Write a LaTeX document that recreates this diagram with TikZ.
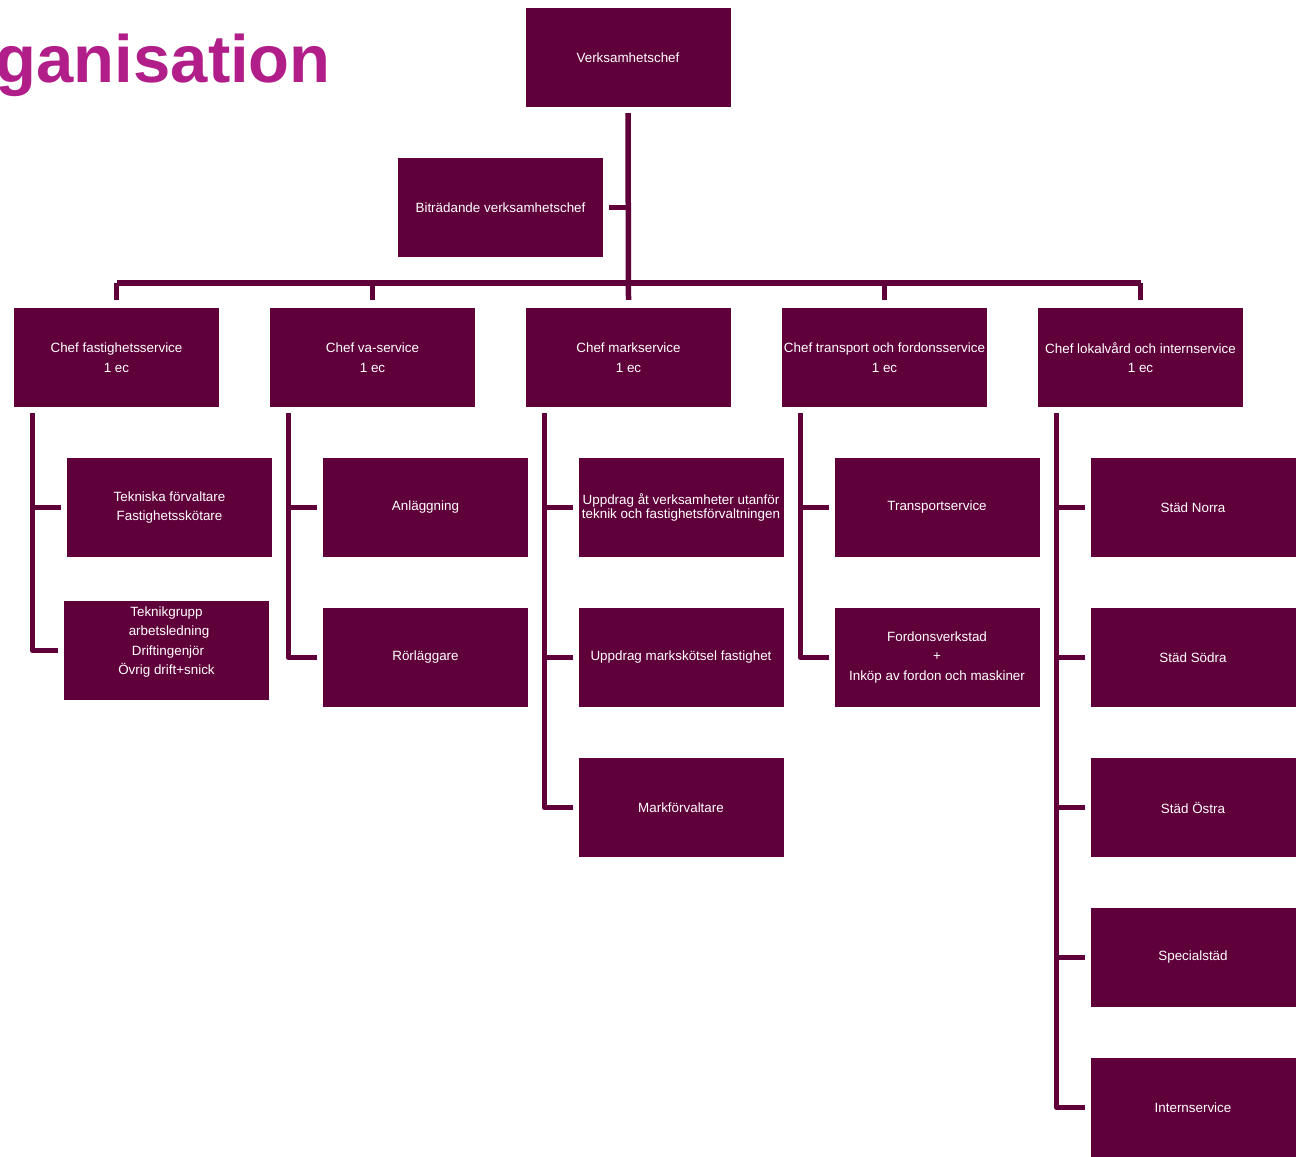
\documentclass[tikz,border=0pt]{standalone}
\usepackage{fontspec}
\setmainfont{Liberation Sans}
\definecolor{boxc}{RGB}{96,0,58}
\definecolor{titlec}{RGB}{177,30,137}
\tikzset{
  orgbox/.style={fill=boxc, text=white, minimum width=205pt, minimum height=99pt,
    inner sep=0pt, align=center, font=\fontsize{13.4}{19.5}\selectfont},
  conn/.style={draw=boxc, line width=5.5pt, line join=round},
}
\begin{document}
\begin{tikzpicture}[x=1pt,y=-1pt]
\clip (0,0) rectangle (1297,1156);
\useasboundingbox (0,0) rectangle (1297,1156);
\fill[white] (0,0) rectangle (1297,1156);

% heading, partly outside the page on the left
\node[anchor=base east, inner sep=0pt, text=titlec,
  font=\fontsize{67}{67}\selectfont\bfseries] (title) at (331,82) {Organisation};

% top level
\node[orgbox] (vc) at (628,57.5) {Verksamhetschef};
\node[orgbox] (bv) at (500.5,207.5) {Biträdande verksamhetschef};

% unit managers
\node[orgbox] (c1) at (116.5,357.5) {Chef fastighetsservice\\1 ec};
\node[orgbox] (c2) at (372.5,357.5) {Chef va-service\\1 ec};
\node[orgbox] (c3) at (628.5,357.5) {Chef markservice\\1 ec};
\node[orgbox] (c4) at (884.5,357.5) {Chef transport och fordonsservice\\1 ec};
\node[orgbox] (c5) at (1140.5,357.5) {Chef lokalvård och internservice\\1 ec};

% fastighetsservice
\node[orgbox] (a1) at (169.5,507.5) {Tekniska förvaltare\\Fastighetsskötare};
\node[orgbox] (a2) at (166.5,650.5) {Teknikgrupp\\\hspace{5pt}arbetsledning\\\hspace{3pt}Driftingenjör\\Övrig drift+snick\\[-5.5pt]\strut};
% va-service
\node[orgbox] (b1) at (425.5,507.5) {Anläggning};
\node[orgbox] (b2) at (425.5,657.5) {Rörläggare};
% markservice
\node[orgbox, font=\fontsize{13.4}{14.5}\selectfont] (m1) at (681,507.5) {Uppdrag åt verksamheter utanför\\teknik och fastighetsförvaltningen};
\node[orgbox] (m2) at (681,657.5) {Uppdrag markskötsel fastighet};
\node[orgbox] (m3) at (681,807.5) {Markförvaltare};
% transport och fordonsservice
\node[orgbox] (t1) at (937,507.5) {Transportservice};
\node[orgbox] (t2) at (937,657.5) {Fordonsverkstad\\+\\Inköp av fordon och maskiner};
% lokalvård och internservice
\node[orgbox] (l1) at (1193,507.5) {Städ Norra};
\node[orgbox] (l2) at (1193,657.5) {Städ Södra};
\node[orgbox] (l3) at (1193,807.5) {Städ Östra};
\node[orgbox] (l4) at (1193,957.5) {Specialstäd};
\node[orgbox] (l5) at (1193,1107.5) {Internservice};

% trunk from the head down to the bus
\coordinate (bus) at (628,283);
\draw[conn] ([yshift=-6pt]vc.south) -- ([yshift=8pt]c3.north);
\draw[conn] ([xshift=6pt]bv.east) -- (bv.east -| vc.south);
\draw[conn] (c1.north |- bus) -- (c5.north |- bus);
\foreach \c in {c1,c2,c4,c5}
  \draw[conn] (\c.north |- bus) -- ([yshift=8pt]\c.north);

% branches below each unit manager
\foreach \p/\last/\kids in {c1/a2/{a1}, c2/b2/{b1}, c3/m3/{m1,m2}, c4/t2/{t1}, c5/l5/{l1,l2,l3,l4}} {
  \coordinate (tr) at ([xshift=18.5pt,yshift=-6pt]\p.south west);
  \draw[conn] (tr) |- ([xshift=-5.5pt]\last.west);
  \foreach \k in \kids
    \draw[conn] (tr |- \k.west) -- ([xshift=-5.5pt]\k.west);
}
\end{tikzpicture}
\end{document}
